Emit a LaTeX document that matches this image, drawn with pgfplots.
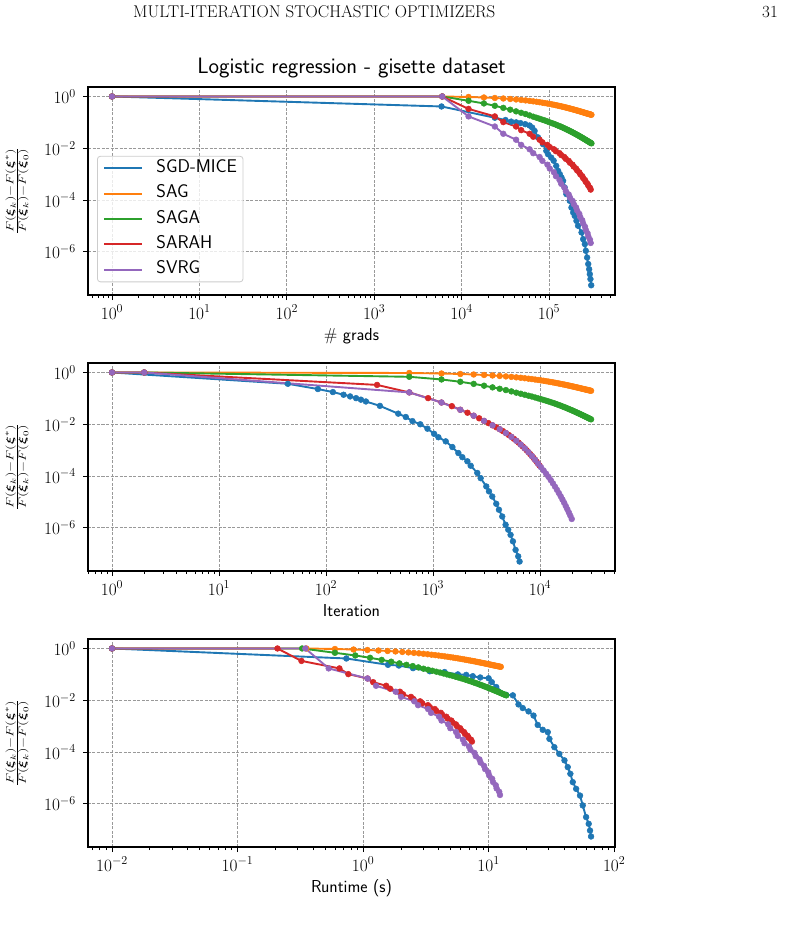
\RequirePackage{fix-cm}
\documentclass[border=0pt]{standalone}
\usepackage{amsmath}
\usepackage{graphicx}
\usepackage{pgfplots}
\usepackage{pgfplotstable}
\pgfplotsset{compat=1.18}

\definecolor{cA}{HTML}{1F77B4}
\definecolor{cB}{HTML}{FF7F0E}
\definecolor{cC}{HTML}{2CA02C}
\definecolor{cD}{HTML}{D62728}
\definecolor{cE}{HTML}{9467BD}

\newcommand{\basefont}{\fontsize{17.3}{20}\selectfont}

% columns: k = iteration, g = gradient evaluations, t = runtime (s), y = relative error
\pgfplotstableread{
k g t y
1 1 0.01 1
2 6000 0.354 1
600 12000 0.597 0.955
1200 18000 0.840 0.913
1800 24000 1.083 0.874
2400 30000 1.326 0.836
3000 36000 1.569 0.801
3600 42000 1.812 0.767
4200 48000 2.055 0.735
4800 54000 2.298 0.705
5400 60000 2.541 0.676
6000 66000 2.784 0.649
6600 72000 3.027 0.624
7200 78000 3.270 0.600
7800 84000 3.513 0.576
8400 90000 3.756 0.555
9000 96000 3.999 0.534
9600 102000 4.242 0.514
10200 108000 4.485 0.495
10800 114000 4.728 0.478
11400 120000 4.971 0.461
12000 126000 5.214 0.445
12600 132000 5.457 0.429
13200 138000 5.700 0.415
13800 144000 5.943 0.401
14400 150000 6.186 0.388
15000 156000 6.429 0.375
15600 162000 6.672 0.363
16200 168000 6.915 0.352
16800 174000 7.158 0.341
17400 180000 7.401 0.331
18000 186000 7.644 0.321
18600 192000 7.887 0.312
19200 198000 8.130 0.303
19800 204000 8.373 0.294
20400 210000 8.616 0.286
21000 216000 8.859 0.278
21600 222000 9.102 0.271
22200 228000 9.345 0.264
22800 234000 9.588 0.257
23400 240000 9.831 0.250
24000 246000 10.074 0.244
24600 252000 10.317 0.238
25200 258000 10.560 0.233
25800 264000 10.803 0.227
26400 270000 11.046 0.222
27000 276000 11.289 0.217
27600 282000 11.532 0.213
28200 288000 11.775 0.208
28800 294000 12.018 0.204
29400 300000 12.261 0.200
30000 306000 12.504 0.196
}\sag

\pgfplotstableread{
k g t y
1 1 0.01 1
2 6000 0.327 1
600 12000 0.597 0.681
1200 18000 0.867 0.537
1800 24000 1.137 0.437
2400 30000 1.407 0.363
3000 36000 1.677 0.309
3600 42000 1.947 0.266
4200 48000 2.217 0.234
4800 54000 2.487 0.209
5400 60000 2.757 0.186
6000 66000 3.027 0.166
6600 72000 3.297 0.151
7200 78000 3.567 0.138
7800 84000 3.837 0.127
8400 90000 4.107 0.1175
9000 96000 4.377 0.1084
9600 102000 4.647 0.100
10200 108000 4.917 0.0933
10800 114000 5.187 0.0872
11400 120000 5.457 0.0815
12000 126000 5.727 0.0762
12600 132000 5.997 0.0714
13200 138000 6.267 0.0669
13800 144000 6.537 0.0628
14400 150000 6.807 0.0590
15000 156000 7.077 0.0554
15600 162000 7.347 0.0521
16200 168000 7.617 0.0490
16800 174000 7.887 0.0462
17400 180000 8.157 0.0436
18000 186000 8.427 0.0411
18600 192000 8.697 0.0388
19200 198000 8.967 0.0367
19800 204000 9.237 0.0347
20400 210000 9.507 0.0329
21000 216000 9.777 0.0312
21600 222000 10.047 0.0296
22200 228000 10.317 0.0281
22800 234000 10.587 0.0267
23400 240000 10.857 0.0254
24000 246000 11.127 0.0242
24600 252000 11.397 0.0230
25200 258000 11.667 0.0220
25800 264000 11.937 0.0210
26400 270000 12.207 0.0200
27000 276000 12.477 0.0191
27600 282000 12.747 0.0183
28200 288000 13.017 0.0175
28800 294000 13.287 0.0168
29400 300000 13.557 0.0161
30000 306000 13.827 0.0155
}\saga

\pgfplotstableread{
k g t y
1 1 0.01 1
2 6000 0.208 1
300 12000 0.323 0.331
600 24000 0.648 0.170
900 30000 0.763 0.1023
1200 42000 1.088 0.0692
1500 48000 1.203 0.0501
1800 60000 1.528 0.0363
2100 66000 1.643 0.0279
2400 78000 1.968 0.0214
2700 84000 2.083 0.0170
3000 96000 2.408 0.0135
3300 102000 2.523 0.01109
3600 114000 2.848 0.00912
3900 120000 2.963 0.00767
4200 132000 3.288 0.00646
4500 138000 3.403 0.00545
4800 150000 3.728 0.00459
5100 156000 3.843 0.00387
5400 168000 4.168 0.00327
5700 174000 4.283 0.00275
6000 186000 4.608 0.00232
6300 192000 4.723 0.00196
6600 204000 5.048 0.00165
6900 210000 5.163 0.00139
7200 222000 5.488 0.001175
7500 228000 5.603 0.000991
7800 240000 5.928 0.000836
8100 246000 6.043 0.000705
8400 258000 6.368 0.000594
8700 264000 6.483 0.000501
9000 276000 6.808 0.000423
9300 282000 6.923 0.000356
9600 294000 7.248 0.000301
9900 300000 7.363 0.000254
}\sarah

\pgfplotstableread{
k g t y
1 1 0.01 1
2 6000 0.347 1
600 12000 0.532 0.170
1200 24000 1.084 0.0692
1800 30000 1.269 0.0363
2400 42000 1.821 0.0214
3000 48000 2.006 0.0135
3600 60000 2.558 0.00912
4200 66000 2.743 0.00646
4800 78000 3.295 0.00459
5400 84000 3.480 0.00327
6000 96000 4.032 0.00232
6600 102000 4.217 0.00165
7200 114000 4.769 0.001175
7800 120000 4.954 0.000836
8400 132000 5.506 0.000594
9000 138000 5.691 0.000423
9600 150000 6.243 0.000301
10200 156000 6.428 0.000220
10800 168000 6.980 0.000165
11400 174000 7.165 0.0001236
12000 186000 7.717 9.29e-5
12600 192000 7.902 6.97e-5
13200 204000 8.454 5.22e-5
13800 210000 8.639 3.92e-5
14400 222000 9.191 2.94e-5
15000 228000 9.376 2.21e-5
15600 240000 9.928 1.66e-5
16200 246000 10.113 1.24e-5
16800 258000 10.665 9.31e-6
17400 264000 10.850 6.98e-6
18000 276000 11.402 5.25e-6
18600 282000 11.587 3.94e-6
19200 294000 12.139 2.95e-6
19800 300000 12.324 2.21e-6
}\svrg

% SGD-MICE: adaptive sampling, recorded separately for each abscissa
\pgfplotstableread{
x y
1 1
5890 0.411
24000 0.151
31800 0.123
36900 0.107
42100 0.100
47200 0.0933
53500 0.0851
59900 0.0759
64200 0.0631
68400 0.0468
74800 0.0263
85300 0.0145
93200 0.00794
97500 0.00589
106000 0.00437
113000 0.00331
121000 0.00209
127000 0.00135
133000 0.00100
139000 0.000741
145000 0.000550
151000 0.000309
158000 0.000170
173000 9.33e-5
180600 5.13e-5
189000 3.31e-5
197000 2.45e-5
206000 1.58e-5
215000 1.02e-5
235600 5.62e-6
246000 3.09e-6
257000 2.00e-6
264000 1.10e-6
273000 6.03e-7
281000 3.39e-7
288000 2.14e-7
293000 1.38e-7
298000 8.91e-8
304000 5.13e-8
}\miceg

\pgfplotstableread{
x y
1 1
44 0.366
84 0.229
116 0.175
146 0.138
168 0.119
191 0.102
212 0.0891
236 0.0759
319 0.0513
473 0.0257
557 0.0191
643 0.0132
760 0.0100
887 0.00676
1024 0.00427
1123 0.00316
1315 0.00219
1517 0.00132
1726 0.000776
1880 0.000537
2094 0.000372
2250 0.000251
2595 0.000132
2787 8.32e-5
3147 3.98e-5
3334 2.57e-5
3580 1.62e-5
3902 8.51e-6
4131 5.01e-6
4436 2.75e-6
4767 1.32e-6
5047 8.51e-7
5308 5.37e-7
5581 3.02e-7
5912 1.41e-7
6256 7.94e-8
6442 5.01e-8
}\micek

\pgfplotstableread{
x y
0.01 1
0.736 0.411
1.58 0.234
1.93 0.219
2.5 0.174
3.4 0.132
4.46 0.123
5.69 0.100
6.63 0.0955
7.48 0.0851
8.57 0.0759
10.0 0.0708
10.6 0.0501
11.5 0.0324
13.8 0.0162
15.6 0.0155
17.3 0.00692
18.7 0.00501
20.8 0.00372
22.8 0.00257
24.6 0.00112
27.0 0.000724
29.6 0.000589
30.5 0.000324
33.4 0.000155
36.6 8.51e-5
40.2 4.79e-5
42.7 2.63e-5
44.8 1.45e-5
46.8 6.92e-6
49.8 3.80e-6
53.5 2.09e-6
56.2 8.71e-7
59.8 3.09e-7
62.7 1.70e-7
64.3 9.33e-8
65.5 5.50e-8
}\micet

\pgfplotsset{
  /pgfplots/micepanel/.style={
    width=527pt, height=208pt, scale only axis,
    ymin=2.16e-8, ymax=2.32,
    ytick={1,1e-2,1e-4,1e-6},
    yminorticks=false,
    grid=major,
    major grid style={dash pattern=on 3pt off 1.5pt, line width=0.8pt, color=black!40},
    axis line style={line width=1.1pt},
    tick align=outside,
    tick pos=left,
    major tick length=5pt, minor tick length=3pt,
    every tick/.style={black, line width=0.9pt},
    every minor tick/.style={black, line width=0.7pt},
    ticklabel style={font=\basefont},
    xticklabel style={anchor=base, inner sep=0pt, yshift=-19pt},
    yticklabel style={anchor=east, inner sep=0pt, xshift=-7pt},
    label style={font=\sffamily\basefont},
    xlabel style={at={(axis description cs:0.5,0)}, anchor=base, yshift=-45pt},
    ylabel style={at={(axis description cs:-0.1347,0.5)}, anchor=center},
    ylabel={\scalebox{1.19}[0.86]{$\frac{F(\boldsymbol{\xi}_k)-F(\boldsymbol{\xi}^*)}{F(\boldsymbol{\xi}_k)-F(\boldsymbol{\xi}_0)}$}},
    every axis plot/.append style={line width=1.9pt, mark=*, mark size=2.9pt,
      mark options={solid, line width=0.5pt}},
  },
}

\begin{document}
\begin{tikzpicture}
\useasboundingbox (0pt,0pt) rectangle (791pt,-944pt);

\node[anchor=base west, inner sep=0pt, font=\fontsize{17}{20}\selectfont]
  at (133pt,-17.5pt) {MULTI-ITERATION STOCHASTIC OPTIMIZERS};
\node[anchor=base east, inner sep=0pt, font=\fontsize{17}{20}\selectfont]
  at (778pt,-17.5pt) {31};

% gradient evaluations
\begin{loglogaxis}[micepanel, at={(88pt,-87pt)}, anchor=north west,
  xmin=0.531, xmax=5.69e5,
  xtick={1,10,100,1000,1e4,1e5},
  minor xtick={0.6,0.7,0.8,0.9,2,3,4,5,6,7,8,9,20,30,40,50,60,70,80,90,
    200,300,400,500,600,700,800,900,2000,3000,4000,5000,6000,7000,8000,9000,
    20000,30000,40000,50000,60000,70000,80000,90000,200000,300000,400000,500000},
  xlabel={\# grads},
  title={Logistic regression - gisette dataset},
  title style={at={(axis description cs:0.5,1)}, anchor=base, yshift=7.7pt,
    font=\sffamily\fontsize{22.3}{26}\selectfont},
  legend style={at={(axis description cs:0.0171,0.669)}, anchor=north west,
    draw=black!20, line width=0.8pt, rounded corners=3pt, fill=white,
    fill opacity=0.8, text opacity=1, font=\sffamily\fontsize{18.4}{21}\selectfont,
    inner xsep=6pt, inner ysep=4pt, row sep=9.4pt, column sep=13pt,
    nodes={inner sep=0pt, text height=12pt, text depth=4pt}},
  legend cell align=left,
  legend image code/.code={\draw[line width=2pt] (0pt,0pt) -- (38pt,0pt);},
]
\addplot[color=cA] table[x=x, y=y] {\miceg};
\addplot[color=cB] table[x=g, y=y] {\sag};
\addplot[color=cC] table[x=g, y=y] {\saga};
\addplot[color=cD] table[x=g, y=y] {\sarah};
\addplot[color=cE] table[x=g, y=y] {\svrg};
\legend{SGD-MICE, SAG, SAGA, SARAH, SVRG}
\end{loglogaxis}

% iterations
\begin{loglogaxis}[micepanel, at={(88pt,-363pt)}, anchor=north west,
  xmin=0.597, xmax=50200,
  xtick={1,10,100,1000,1e4},
  minor xtick={0.6,0.7,0.8,0.9,2,3,4,5,6,7,8,9,20,30,40,50,60,70,80,90,
    200,300,400,500,600,700,800,900,2000,3000,4000,5000,6000,7000,8000,9000,
    20000,30000,40000,50000},
  xlabel={Iteration},
]
\addplot[color=cA] table[x=x, y=y] {\micek};
\addplot[color=cB] table[x=k, y=y] {\sag};
\addplot[color=cC] table[x=k, y=y] {\saga};
\addplot[color=cD] table[x=k, y=y] {\sarah};
\addplot[color=cE] table[x=k, y=y] {\svrg};
\end{loglogaxis}

% wall-clock time
\begin{loglogaxis}[micepanel, at={(88pt,-639pt)}, anchor=north west,
  xmin=6.44e-3, xmax=101.6,
  xtick={0.01,0.1,1,10,100},
  minor xtick={0.007,0.008,0.009,0.02,0.03,0.04,0.05,0.06,0.07,0.08,0.09,
    0.2,0.3,0.4,0.5,0.6,0.7,0.8,0.9,2,3,4,5,6,7,8,9,20,30,40,50,60,70,80,90},
  xlabel={Runtime (s)},
]
\addplot[color=cA] table[x=x, y=y] {\micet};
\addplot[color=cB] table[x=t, y=y] {\sag};
\addplot[color=cC] table[x=t, y=y] {\saga};
\addplot[color=cD] table[x=t, y=y] {\sarah};
\addplot[color=cE] table[x=t, y=y] {\svrg};
\end{loglogaxis}
\end{tikzpicture}
\end{document}
